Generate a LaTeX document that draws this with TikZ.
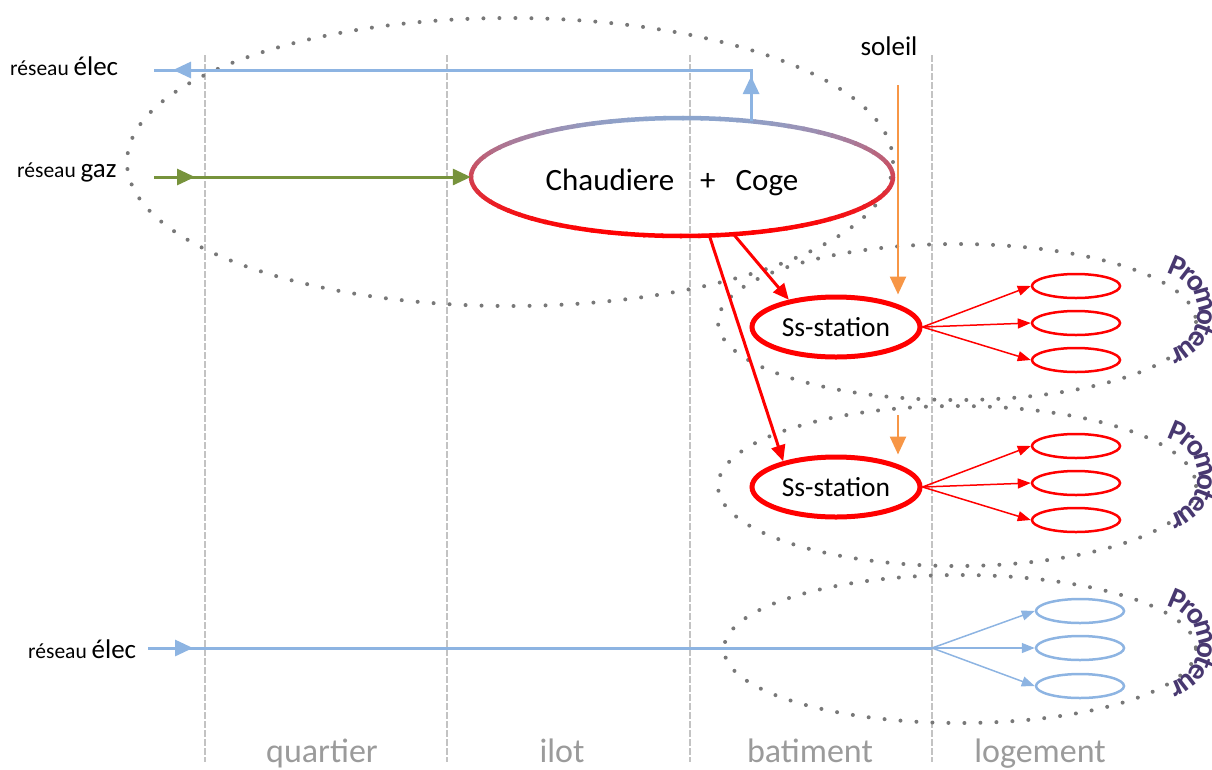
\documentclass[tikz,border=0pt]{standalone}
\usepackage{fontspec}
\setmainfont{Carlito}
\usetikzlibrary{arrows.meta,shapes.geometric,calc}
\definecolor{elecblue}{RGB}{141,180,226}
\definecolor{gazgreen}{RGB}{119,147,60}
\definecolor{sunorange}{RGB}{247,150,70}
\definecolor{chtop}{RGB}{140,165,205}
\definecolor{dotgray}{RGB}{120,120,120}
\definecolor{colgray}{RGB}{195,195,195}
\definecolor{labgray}{RGB}{155,155,155}
\definecolor{promo}{RGB}{72,56,112}
\begin{document}
\begin{tikzpicture}[x=1pt,y=-1pt,
  dotell/.style={draw=dotgray, line width=4pt, line cap=round, dash pattern=on 0pt off 16pt},
  colline/.style={draw=colgray, line width=2pt, dash pattern=on 7pt off 2pt},
  elecline/.style={draw=elecblue, line width=3pt},
  elecarrow/.style={draw=elecblue, line width=3pt, -{Triangle[length=18pt,width=16pt]}},
  gazarrow/.style={draw=gazgreen, line width=3pt, -{Triangle[length=18pt,width=16pt]}},
  sunarrow/.style={draw=sunorange, line width=2.5pt, -{Triangle[length=18pt,width=16pt]}},
  redarrow/.style={draw=red, line width=3pt, -{Triangle[length=16pt,width=14pt]}},
  thinred/.style={draw=red, line width=1.5pt, -{Triangle[length=13pt,width=10pt]}},
  thinblue/.style={draw=elecblue, line width=1.5pt, -{Triangle[length=13pt,width=10pt]}},
  ssnode/.style={ellipse, draw=red, line width=5pt, minimum width=168pt, minimum height=60pt, inner sep=0pt, font=\fontsize{27.5}{30}\selectfont},
  redlog/.style={ellipse, draw=red, line width=2.5pt, minimum width=88pt, minimum height=24pt, inner sep=0pt},
  bluelog/.style={ellipse, draw=elecblue, line width=2.5pt, minimum width=88pt, minimum height=24pt, inner sep=0pt},
  scalelab/.style={anchor=base, text=labgray, font=\fontsize{34}{36}\selectfont},
  netlab/.style={anchor=base west, inner sep=0pt},
  promlet/.style={anchor=base, inner sep=0pt, text=promo, font=\fontsize{30}{30}\selectfont\bfseries}
]
\useasboundingbox (0,0) rectangle (1212,769);

% scale columns
\foreach \x in {205,447,690,932} \draw[colline] (\x,55) -- (\x,762);

% dotted groupings
\draw[dotell] (510,162) ellipse [x radius=383, y radius=144];
\draw[dotell] (957,322) ellipse [x radius=239, y radius=78];
\draw[dotell] (957,486) ellipse [x radius=239, y radius=80];
\draw[dotell] (960,649) ellipse [x radius=236, y radius=74];

% main node
\node[ellipse, minimum width=422pt, minimum height=118pt, inner sep=0pt, font=\fontsize{31}{34}\selectfont] (ch) at (682,177) {};
\node[anchor=base, inner sep=0pt, font=\fontsize{31}{34}\selectfont] (chtext) at (672,190) {Chaudiere\hspace{26pt}+\hspace{20pt}Coge};
\foreach \a in {0,5,...,355} {
  \pgfmathsetmacro\t{100*((1-sin(\a+2.5))/2)^1.3}
  \draw[line width=4.5pt, draw=chtop!\t!red] (ch.center) ++(\a:211 and 59) arc[start angle=\a, delta angle=5.6, x radius=211, y radius=59];
}

% sub-stations
\node[ssnode] (ss1) at (836,327) {Ss-station};
\node[ssnode] (ss2) at (836,487) {Ss-station};

% logements
\node[redlog] (r11) at (1076,286) {};
\node[redlog] (r12) at (1076,323) {};
\node[redlog] (r13) at (1076,360) {};
\node[redlog] (r21) at (1076,446) {};
\node[redlog] (r22) at (1076,483) {};
\node[redlog] (r23) at (1076,520) {};
\node[bluelog] (b1) at (1080,611) {};
\node[bluelog] (b2) at (1080,648) {};
\node[bluelog] (b3) at (1080,686) {};

% labels
\node[netlab] (elec1) at (10,75) {\fontsize{21.5}{22}\selectfont réseau \fontsize{27}{28}\selectfont élec};
\node[netlab] (gaz) at (17,177) {\fontsize{21.5}{22}\selectfont réseau \fontsize{27}{28}\selectfont gaz};
\node[netlab] (elec2) at (28,658) {\fontsize{21.5}{22}\selectfont réseau \fontsize{27}{28}\selectfont élec};
\node[anchor=base, inner sep=0pt, font=\fontsize{27}{28}\selectfont] (soleil) at (889,55) {soleil};
\node[scalelab] (lq) at (322,762) {quartier};
\node[scalelab] (li) at (562,762) {ilot};
\node[scalelab] (lb) at (810,762) {batiment};
\node[scalelab] (ll) at (1040,762) {logement};

% top electricity output
\coordinate (ecorner) at (ch.39 |- 0,70);
\coordinate (euptip) at (ch.39 |- 0,76);
\coordinate (eend) at (154,70);
\coordinate (etip) at (173,70);
\draw[elecline] (ch.39) -- (ecorner) -- (eend);
\draw[elecarrow] (ch.39) -- (euptip);
\draw[elecarrow] (ecorner) -- (etip);

% gas input
\coordinate (gstart) at (154,177);
\coordinate (gtip) at (195,177);
\draw[gazarrow] (gstart) -- (ch.west);
\draw[gazarrow] (gstart) -- (gtip);

% heat distribution
\draw[redarrow] (ch.-48) -- (ss1.150);
\draw[redarrow] (ch.-65) -- (ss2.154);

% sun
\coordinate (sun1) at (898,85);
\coordinate (sun2) at (898,415);
\draw[sunarrow] (sun1) -- (sun1 |- ss1.north);
\draw[sunarrow] (sun2) -- (sun2 |- ss2.north);

% to logements
\foreach \n in {r11,r12,r13} \draw[thinred] (ss1.east) -- (\n.west);
\foreach \n in {r21,r22,r23} \draw[thinred] (ss2.east) -- (\n.west);

% bottom electricity
\coordinate (bstart) at (148,648);
\coordinate (btip) at (193,648);
\coordinate (hub) at (932,648);
\draw[elecline] (bstart) -- (hub);
\draw[elecarrow] (bstart) -- (btip);
\foreach \n in {b1,b2,b3} \draw[thinblue] (hub) -- (\n.west);

% promoteur arcs
\coordinate (pc1) at (1158,312);
\coordinate (pc2) at (1158,477);
\coordinate (pc3) at (1158,645);
\foreach \g in {1,2,3} {
  \foreach \c/\a [count=\i] in {P/67, r/52.4, o/37.6, m/15.5, o/-6.6, t/-21.2, e/-35.2, u/-52.2, r/-67} {
    \node[promlet, rotate=\a-90] (pr\g-\i) at ($(pc\g)+(-\a:40)$) {\c};
  }
}
\end{tikzpicture}
\end{document}
